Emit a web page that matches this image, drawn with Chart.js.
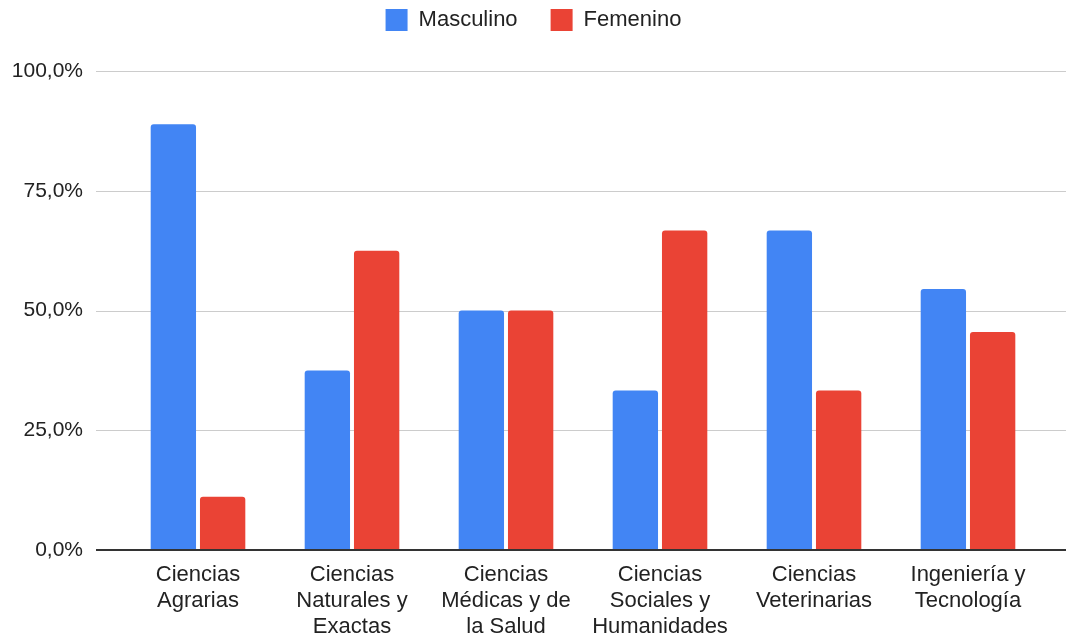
<!DOCTYPE html>
<html>
<head>
<meta charset="utf-8">
<script src="https://cdn.jsdelivr.net/npm/chart.js@4"></script>
<style>
  html, body { margin: 0; padding: 0; background: #fff; }
  #wrap { width: 1066px; height: 641px; }
</style>
</head>
<body>
<div id="wrap"><canvas id="chart"></canvas></div>
<script>
const categories = [
    ['Ciencias', 'Agrarias'],
    ['Ciencias', 'Naturales y', 'Exactas'],
    ['Ciencias', 'Médicas y de', 'la Salud'],
    ['Ciencias', 'Sociales y', 'Humanidades'],
    ['Ciencias', 'Veterinarias'],
    ['Ingeniería y', 'Tecnología']
];
const masculino = [88.9, 37.5, 50.0, 33.3, 66.7, 54.5];
const femenino = [11.1, 62.5, 50.0, 66.7, 33.3, 45.5];
const yTicks = [0, 25, 50, 75, 100];

// gridlines run past the bar area, like the sheets chart
const wideGrid = {
    id: 'wideGrid',
    beforeDatasetsDraw(chart) {
        const ctx = chart.ctx;
        const y = chart.scales.y;
        ctx.save();
        yTicks.forEach(v => {
            if (v === 0) return;
            const py = Math.round(y.getPixelForValue(v)) + 0.5;
            ctx.beginPath();
            ctx.moveTo(96, py);
            ctx.lineTo(1066, py);
            ctx.lineWidth = 1;
            ctx.strokeStyle = '#cccccc';
            ctx.stroke();
        });
        ctx.restore();
    },
    afterDatasetsDraw(chart) {
        const ctx = chart.ctx;
        const py = Math.round(chart.scales.y.getPixelForValue(0));
        ctx.save();
        ctx.fillStyle = '#333333';
        ctx.fillRect(96, py - 1, 970, 2);
        ctx.restore();
    }
};

// push the plot area down below the legend, nudge legend right
const legendSpace = {
    id: 'legendSpace',
    beforeInit(chart) {
        const fit = chart.legend.fit;
        chart.legend.fit = function () {
            fit.bind(chart.legend)();
            this.height += 30;
        };
    },
    afterLayout(chart) {
        chart.legend.left += 11;
        chart.legend.right += 11;
    }
};

window.addEventListener('load', function () {
    const ctx = document.getElementById('chart').getContext('2d');
    new Chart(ctx, {
        type: 'bar',
        data: {
            labels: categories,
            datasets: [{
                label: 'Masculino',
                data: masculino,
                backgroundColor: '#4285F4',
                borderRadius: 3,
                categoryPercentage: 0.64,
                barPercentage: 0.92
            }, {
                label: 'Femenino',
                data: femenino,
                backgroundColor: '#EA4335',
                borderRadius: 3,
                categoryPercentage: 0.64,
                barPercentage: 0.92
            }]
        },
        options: {
            responsive: true,
            maintainAspectRatio: false,
            animation: false,
            layout: { padding: { top: -24, right: 21, left: 0, bottom: 0 } },
            plugins: {
                legend: {
                    display: true,
                    position: 'top',
                    labels: {
                        boxWidth: 22,
                        boxHeight: 22,
                        padding: 33,
                        color: '#222',
                        font: { family: 'Liberation Sans, Arial', size: 22 }
                    }
                },
                tooltip: { enabled: false }
            },
            scales: {
                x: {
                    grid: { display: false, drawTicks: false },
                    border: { display: false },
                    ticks: {
                        color: '#222',
                        padding: 12,
                        maxRotation: 0,
                        autoSkip: false,
                        font: { family: 'Liberation Sans, Arial', size: 22, lineHeight: 1.18 }
                    },
                    afterFit(scale) { scale.height = 91; }
                },
                y: {
                    min: 0,
                    max: 100,
                    grid: { display: false, drawTicks: false },
                    border: { display: false },
                    ticks: {
                        stepSize: 25,
                        padding: 38,
                        color: '#222',
                        font: { family: 'Liberation Sans, Arial', size: 21 },
                        callback: v => v.toFixed(1).replace('.', ',') + '%'
                    },
                    afterFit(scale) { scale.width = 121; }
                }
            }
        },
        plugins: [wideGrid, legendSpace]
    });
});
</script>
</body>
</html>
